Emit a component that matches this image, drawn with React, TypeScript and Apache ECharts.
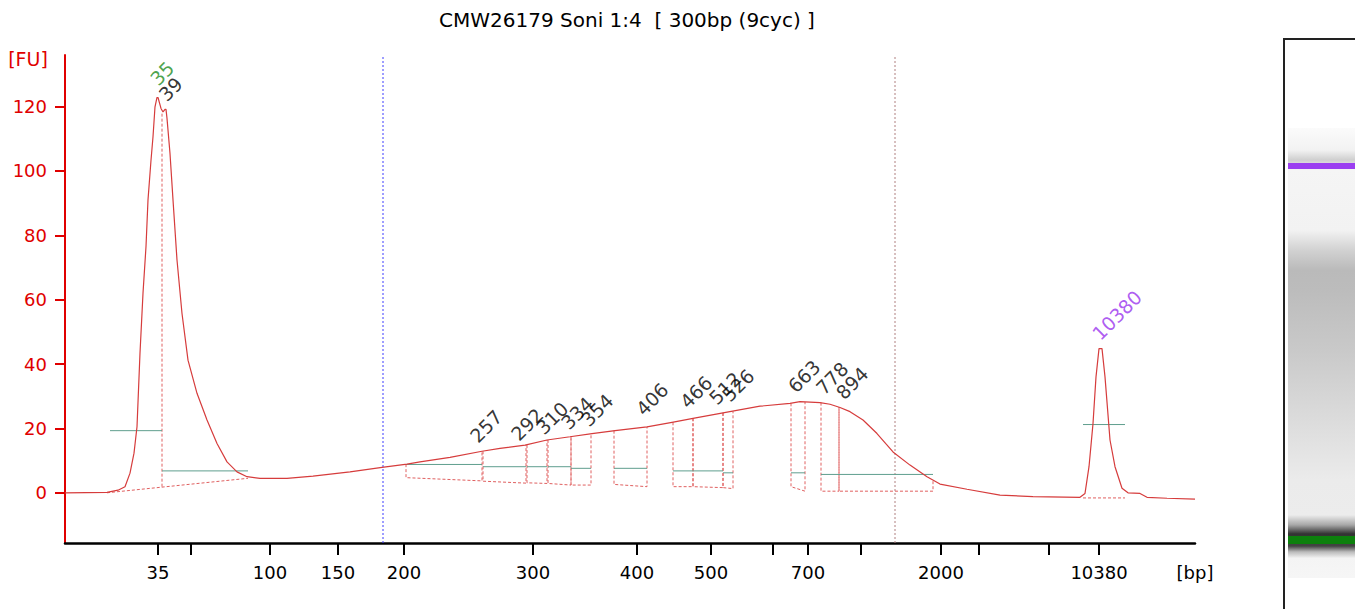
import { useEffect, useRef } from 'react';
import * as echarts from 'echarts';

// migration time (arbitrary units) on x, fluorescence [FU] on y
const traceTime = [
    0, 4.2, 5.3, 6.0, 6.5, 6.9, 7.2, 7.5, 7.8, 8.1, 8.3, 8.6, 8.8, 9.0, 9.2, 9.3, 9.6, 9.8, 10.0, 10.1,
    10.2, 10.5, 10.8, 11.2, 11.7, 12.3, 13.2, 14.2, 15.2, 16.2, 17.2, 18.2, 19.5, 22.2, 24.8, 28.5, 31.7, 34.2, 35.5, 38.5,
    41.7, 43.5, 46.0, 48.2, 50.5, 52.7, 55.0, 58.2, 60.7, 62.8, 65.8, 69.5, 72.5, 73.5, 75.5, 76.5, 77.5, 78.5, 79.8, 81.2,
    82.8, 84.5, 86.2, 87.5, 90.2, 93.5, 96.8, 101.5, 102.0, 102.4, 102.8, 103.1, 103.4, 103.7, 104.0, 104.5, 105.0, 105.7, 106.3, 107.5,
    108.2, 110.2, 113.0,
];
const traceFU = [
    0, 0.1, 0.8, 1.9, 6.1, 12.3, 20.5, 43.4, 62, 76.5, 91, 103.3, 110.6, 119.9, 122.8, 122.8, 119.4, 118.3, 119.1, 119.1,
    116.3, 105.4, 91, 72.3, 55.7, 41.2, 30.9, 22.6, 15.3, 9.6, 6.5, 5.0, 4.5, 4.5, 5.2, 6.5, 7.9, 8.9, 9.6, 11.0,
    12.9, 13.8, 14.8, 16.4, 17.4, 18.4, 19.3, 20.5, 21.9, 23.1, 24.8, 26.9, 27.8, 28.3, 28.0, 27.5, 26.5, 25.2, 22.6, 18.4,
    12.7, 8.6, 5.0, 2.7, 1.1, -0.7, -1.2, -1.4, -0.2, 8.1, 21.5, 36.0, 44.8, 44.8, 36.0, 16.4, 8.1, 1.4, 0, -0.2,
    -1.4, -1.7, -2.0,
];

// x axis ticks (time) and their size labels
const tickTimes = [9.3, 12.6, 20.5, 27.3, 33.9, 46.8, 57.2, 64.6, 70.8, 74.3, 79.6, 87.6, 91.4, 98.4, 103.4];
const tickLabels = ['35', '', '100', '150', '200', '300', '400', '500', '', '700', '', '2000', '', '', '10380'];
const yTicks = [0, 20, 40, 60, 80, 100, 120];

// called peaks
const peakNames = ['35', '39', '257', '292', '310', '334', '354', '406', '466', '512', '526', '663', '778', '894', '10380'];
const peakLabelTime = [9.7, 10.55, 42.1, 46.2, 48.7, 51.2, 53.2, 58.7, 63.1, 66.0, 67.3, 73.9, 76.7, 78.7, 105.2];
const peakLabelFU = [130.3, 125.4, 20.7, 21.3, 23.2, 24.8, 25.7, 29.1, 31.3, 32.5, 33.4, 36.2, 35.6, 34.1, 55.2];
const peakColors = ['#1e8c1e', '#000', '#000', '#000', '#000', '#000', '#000', '#000', '#000', '#000', '#000', '#000', '#000', '#000', '#9933ee'];

// smear regions of the 200-2000 bp range
const regionStart = [34.1, 41.8, 46.2, 48.3, 50.6, 54.9, 60.8, 62.8, 65.8, 72.6, 75.6, 77.4];
const regionEnd = [41.7, 46.1, 48.2, 50.6, 52.6, 58.2, 62.8, 65.8, 66.8, 74.0, 77.4, 86.8];
const regionTopStart = [8.9, 12.9, 14.8, 16.4, 17.4, 19.3, 21.9, 23.1, 24.8, 27.8, 28.0, 26.6];
const regionTopEnd = [12.9, 14.8, 16.4, 17.4, 18.4, 20.5, 23.1, 24.8, 25.3, 28.2, 26.6, 3.9];
const regionBottomStart = [4.7, 3.6, 3.1, 2.9, 2.4, 2.6, 1.9, 1.9, 1.6, 1.9, 0.5, 0.5];
const regionBottomEnd = [3.7, 3.0, 2.9, 2.4, 2.4, 1.9, 1.9, 1.6, 1.3, 0.5, 0.5, 0.5];
const regionHalf = [8.8, 8.1, 8.1, 8.1, 7.6, 7.6, 6.8, 6.8, 6.2, 6.2, 5.7, 5.7];

// marker peaks: [start, end, half height]
const markerWidths = [
    [4.5, 9.7, 19.3],
    [9.7, 18.3, 6.8],
    [101.8, 106.0, 21.2],
];
const regionLimits = [31.8, 83.0];
const regionLimitColors = ['#3c3cff', '#b08080'];

const Y_MIN = -15.6;
const Y_MAX = 136;
const FONT = 'DejaVu Sans';
const RED = '#d63c3c';
const DOT_RED = '#e06060';
const GREEN_LINE = '#5f9e8e';

function segment(points: number[][], color: string, dotted: boolean) {
    return {
        type: 'line',
        data: points,
        showSymbol: false,
        silent: true,
        lineStyle: { color, width: 1, type: dotted ? [3, 2] : 'solid' },
        z: dotted ? 1 : 3,
    };
}

export default function App() {
    const chartRef = useRef<HTMLDivElement>(null);

    useEffect(() => {
        if (!chartRef.current) return;
        const chart = echarts.init(chartRef.current, null, { renderer: 'svg' });

        const greenSegs = [
            ...markerWidths.map(m => segment([[m[0], m[2]], [m[1], m[2]]], GREEN_LINE, false)),
            ...regionStart.map((s, i) => segment([[s, regionHalf[i]], [regionEnd[i], regionHalf[i]]], GREEN_LINE, false)),
        ];
        const dottedSegs = [
            segment([[4.2, 0], [18.3, 4.5]], DOT_RED, true),
            segment([[9.7, 1.9], [9.7, 118.3]], DOT_RED, true),
            segment([[101.8, -1.6], [106.0, -1.6]], DOT_RED, true),
            ...regionStart.map((s, i) => segment([
                [s, regionTopStart[i]],
                [s, regionBottomStart[i]],
                [regionEnd[i], regionBottomEnd[i]],
                [regionEnd[i], regionTopEnd[i]],
            ], DOT_RED, true)),
        ];
        // vertical limits of the analysed region
        const limitSeries = regionLimits.map((x, i) => ({
            ...segment([[x, Y_MIN], [x, Y_MAX]], regionLimitColors[i], true),
            lineStyle: { color: regionLimitColors[i], width: 1, type: [2, 2] },
        }));

        const laneStops = [
            [0, '#fbfbfb'], [0.049, '#f2f2f2'], [0.071, '#cfcfcf'], [0.093, '#f5f5f5'],
            [0.227, '#f2f2f2'], [0.271, '#d2d2d2'], [0.316, '#bababa'], [0.36, '#bcbcbc'],
            [0.493, '#c9c9c9'], [0.627, '#d9d9d9'], [0.782, '#ebebeb'], [0.86, '#ececec'],
            [0.882, '#a8a8a8'], [0.902, '#333333'], [0.929, '#444444'], [0.942, '#bbbbbb'],
            [0.956, '#f4f4f4'], [1, '#f6f6f6'],
        ].map(([offset, color]) => ({ offset: offset as number, color: color as string }));

        const option = {
            animation: false,
            textStyle: { fontFamily: FONT },
            grid: { left: 65, right: 160, top: 55, bottom: 66 },
            xAxis: {
                type: 'value',
                min: 0,
                max: 113,
                axisLine: { show: true, onZero: false, lineStyle: { color: '#000', width: 2.5 } },
                axisTick: {
                    show: true,
                    customValues: tickTimes,
                    length: 12,
                    lineStyle: { color: '#000', width: 2 },
                },
                axisLabel: {
                    customValues: [...tickTimes.filter((_, i) => tickLabels[i] !== ''), 113],
                    formatter: (v: number) => {
                        if (v === 113) return '[bp]';
                        const i = tickTimes.indexOf(v);
                        return i >= 0 ? tickLabels[i] : '';
                    },
                    color: '#000',
                    fontSize: 18,
                    fontFamily: FONT,
                    margin: 20,
                },
                splitLine: { show: false },
            },
            yAxis: {
                type: 'value',
                min: Y_MIN,
                max: Y_MAX,
                axisLine: { show: true, lineStyle: { color: '#e00000', width: 2 } },
                axisTick: {
                    show: true,
                    customValues: yTicks,
                    length: 10,
                    lineStyle: { color: '#e00000', width: 2 },
                },
                axisLabel: {
                    customValues: yTicks,
                    color: '#e00000',
                    fontSize: 18,
                    fontFamily: FONT,
                    margin: 18,
                },
                splitLine: { show: false },
            },
            graphic: [
                {
                    type: 'text',
                    style: {
                        text: 'CMW26179 Soni 1:4  [ 300bp (9cyc) ]',
                        x: 627, y: 20, align: 'center', verticalAlign: 'middle',
                        fontSize: 20, fontFamily: FONT, fill: '#000',
                    },
                },
                {
                    type: 'text',
                    style: {
                        text: '[FU]', x: 28, y: 59, align: 'center', verticalAlign: 'middle',
                        fontSize: 19, fontFamily: FONT, fill: '#e00000',
                    },
                },
                // gel lane
                {
                    type: 'rect',
                    shape: { x: 1288, y: 128, width: 67, height: 450 },
                    style: { fill: new echarts.graphic.LinearGradient(0, 0, 0, 1, laneStops) },
                },
                { type: 'rect', shape: { x: 1288, y: 163, width: 67, height: 6 }, style: { fill: '#9b3ff0' } },
                { type: 'rect', shape: { x: 1288, y: 536, width: 67, height: 8 }, style: { fill: '#0d800d' } },
                { type: 'line', shape: { x1: 1284, y1: 38, x2: 1284, y2: 609 }, style: { stroke: '#222', lineWidth: 2 } },
                { type: 'line', shape: { x1: 1283, y1: 39, x2: 1355, y2: 39 }, style: { stroke: '#222', lineWidth: 2 } },
            ],
            series: [
                {
                    type: 'line',
                    data: traceTime.map((t, i) => [t, traceFU[i]]),
                    showSymbol: false,
                    lineStyle: { color: RED, width: 1.2 },
                    z: 4,
                },
                ...limitSeries,
                ...greenSegs,
                ...dottedSegs,
                {
                    type: 'scatter',
                    symbolSize: 0,
                    silent: true,
                    z: 5,
                    data: peakNames.map((n, i) => ({
                        name: n,
                        value: [peakLabelTime[i], peakLabelFU[i]],
                        label: { color: peakColors[i] },
                    })),
                    label: {
                        show: true,
                        position: 'inside',
                        formatter: '{b}',
                        rotate: 45,
                        align: 'center',
                        verticalAlign: 'middle',
                        fontSize: 19,
                        fontFamily: FONT,
                    },
                },
            ],
        };

        chart.setOption(option as any);
        return () => chart.dispose();
    }, []);

    return (
        <div
            ref={chartRef}
            style={{ position: 'fixed', left: 0, top: 0, width: '1355px', height: '609px', background: '#fff' }}
        ></div>
    );
}
